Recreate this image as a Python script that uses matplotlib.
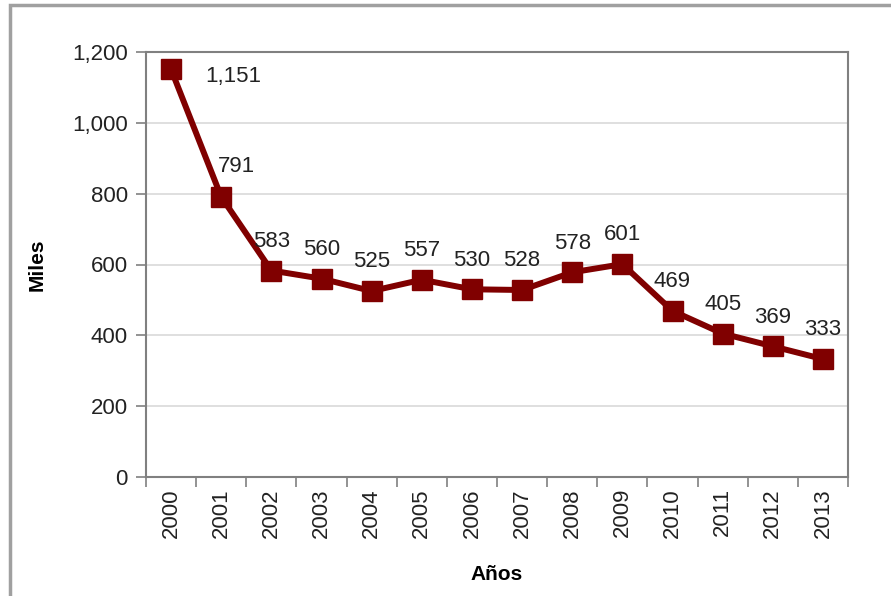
import numpy as np
import matplotlib.pyplot as plt
from matplotlib.patches import Rectangle
from matplotlib.ticker import FuncFormatter

plt.rcParams['font.family'] = ['Liberation Sans', 'DejaVu Sans']

years = ['2000', '2001', '2002', '2003', '2004', '2005', '2006',
         '2007', '2008', '2009', '2010', '2011', '2012', '2013']
miles = [1151, 791, 583, 560, 525, 557, 530, 528, 578, 601, 469, 405, 369, 333]
# label offsets (points) for each data label
lab_dx = [45, 11] + [0] * 12
lab_dy = [-5, 22] + [21] * 12

fig = plt.figure(figsize=(8.91, 5.96), dpi=100)
ax = fig.add_axes([146 / 891, 1 - 477 / 596, (848 - 146) / 891, (477 - 52) / 596])

# outer border of the chart
fig.patches.append(Rectangle((10 / 891, -0.05), 1.0, 1 - 5 / 596 + 0.05,
                             transform=fig.transFigure, fill=False,
                             edgecolor='#a0a0a0', linewidth=2.5, zorder=0))

x = np.arange(len(years))
ax.plot(x, miles, color='#800000', linewidth=4.3, marker='s', markersize=15,
        zorder=3, clip_on=False)

for xi, v, dx, dy in zip(x, miles, lab_dx, lab_dy):
    ax.annotate('{:,}'.format(v), xy=(xi, v), xytext=(dx, dy),
                textcoords='offset points', ha='center', va='center',
                fontsize=16, color='#222222')

ax.set_xlim(-0.5, len(years) - 0.5)
ax.set_ylim(0, 1200)
ax.set_yticks(np.arange(0, 1201, 200))
ax.yaxis.set_major_formatter(FuncFormatter(lambda v, p: '{:,}'.format(int(v))))
ax.yaxis.grid(True, color='#d9d9d9', linewidth=1.2)
ax.set_axisbelow(True)

# ticks at category boundaries, labels at centers
ax.set_xticks(np.arange(-0.5, len(years), 1.0))
ax.set_xticklabels([])
ax.set_xticks(x, minor=True)
ax.set_xticklabels(years, minor=True, rotation=90, fontsize=16, color='#222222')
ax.tick_params(axis='x', which='major', length=7, width=1.2, color='#808080', direction='out')
ax.tick_params(axis='x', which='minor', length=0, pad=8)
ax.tick_params(axis='y', length=7, width=1.2, color='#808080', labelsize=16,
               labelcolor='#222222', pad=6)

for s in ax.spines.values():
    s.set_color('#808080')
    s.set_linewidth(1.5)

ax.set_ylabel('Miles', fontsize=15, fontweight='bold', va='center')
ax.yaxis.set_label_coords((37 - 146) / 702, 0.5)
ax.set_xlabel('Años', fontsize=15, fontweight='bold', va='center')
ax.xaxis.set_label_coords(0.5, (477 - 575) / 425)

fig.savefig('out.png', dpi=100)
